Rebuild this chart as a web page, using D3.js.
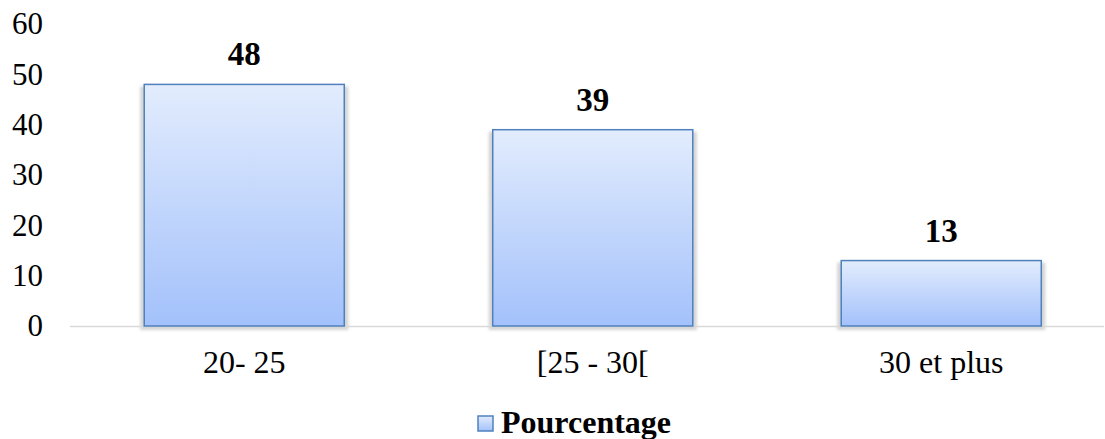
<!DOCTYPE html>
<html>
<head>
<meta charset="utf-8">
<script src="https://cdn.jsdelivr.net/npm/d3@7"></script>
</head>
<body style="margin:0; background:#fff">
<div class="chart"></div>
<script>
var categories = ["20- 25", "[25 - 30[", "30 et plus"];
var values = [48, 39, 13];
var yTicks = [0, 10, 20, 30, 40, 50, 60];
var seriesName = "Pourcentage";

var width = 1105, height = 439;
var serif = "'Liberation Serif'";

var svg = d3.select(".chart").append("svg")
    .attr("width", width)
    .attr("height", height)
    .style("font-family", serif);

var defs = svg.append("defs");
var grad = defs.append("linearGradient")
    .attr("id", "barFill")
    .attr("x1", 0).attr("y1", 0).attr("x2", 0).attr("y2", 1);
grad.append("stop").attr("offset", "0%").attr("stop-color", "#e2ecfd");
grad.append("stop").attr("offset", "100%").attr("stop-color", "#a3c1fb");

defs.append("filter").attr("id", "blur")
    .append("feGaussianBlur").attr("stdDeviation", 1.5);

var x = d3.scaleBand()
    .domain(categories)
    .range([70, 1115.5])
    .paddingInner(0.426)
    .paddingOuter(0.213);

var y = d3.scaleLinear()
    .domain([0, 60])
    .range([326, 24]);

// y tick labels, no axis line
var yAxis = d3.axisLeft(y).tickValues(yTicks).tickSize(0).tickPadding(0);
var gy = svg.append("g")
    .attr("transform", "translate(43,0)")
    .call(yAxis);
gy.select(".domain").remove();
gy.selectAll("text")
    .style("font-family", serif)
    .style("font-size", "31px")
    .attr("fill", "#000");

// bar shadows
svg.append("g").selectAll("rect")
    .data(values)
    .enter()
    .append("rect")
      .attr("x", function(d, i) { return x(categories[i]) - 4; })
      .attr("y", function(d) { return y(d) + 2; })
      .attr("width", x.bandwidth() + 8)
      .attr("height", function(d) { return y(0) - y(d) + 2; })
      .attr("fill", "#d4d4d4")
      .attr("filter", "url(#blur)");

// baseline
svg.append("line")
    .attr("x1", 70).attr("x2", 1104)
    .attr("y1", y(0) + 0.5).attr("y2", y(0) + 0.5)
    .attr("stroke", "#d9d9d9")
    .attr("stroke-width", 1.5);

// bars
svg.append("g").selectAll("rect")
    .data(values)
    .enter()
    .append("rect")
      .attr("x", function(d, i) { return x(categories[i]); })
      .attr("y", function(d) { return y(d); })
      .attr("width", x.bandwidth())
      .attr("height", function(d) { return y(0) - y(d); })
      .attr("fill", "url(#barFill)")
      .attr("stroke", "#4f81bd")
      .attr("stroke-width", 1.5);

// value labels
svg.append("g").selectAll("text")
    .data(values)
    .enter()
    .append("text")
      .attr("x", function(d, i) { return x(categories[i]) + x.bandwidth() / 2; })
      .attr("y", function(d) { return y(d) - 19; })
      .attr("text-anchor", "middle")
      .style("font-family", serif)
      .style("font-size", "33px")
      .style("font-weight", "bold")
      .text(function(d) { return d; });

// category labels
var xAxis = d3.axisBottom(x).tickSize(0).tickPadding(0);
var gx = svg.append("g")
    .attr("transform", "translate(0,350)")
    .call(xAxis);
gx.select(".domain").remove();
gx.selectAll("text")
    .style("font-family", serif)
    .style("font-size", "32px")
    .attr("fill", "#000");

// legend
var legend = svg.append("g").attr("transform", "translate(478,416)");
legend.append("rect")
    .attr("width", 15).attr("height", 15)
    .attr("fill", "url(#barFill)")
    .attr("stroke", "#4f81bd")
    .attr("stroke-width", 1.5);
legend.append("text")
    .attr("x", 23).attr("y", 17)
    .style("font-family", serif)
    .style("font-size", "32px")
    .style("font-weight", "bold")
    .text(seriesName);
</script>
</body>
</html>
